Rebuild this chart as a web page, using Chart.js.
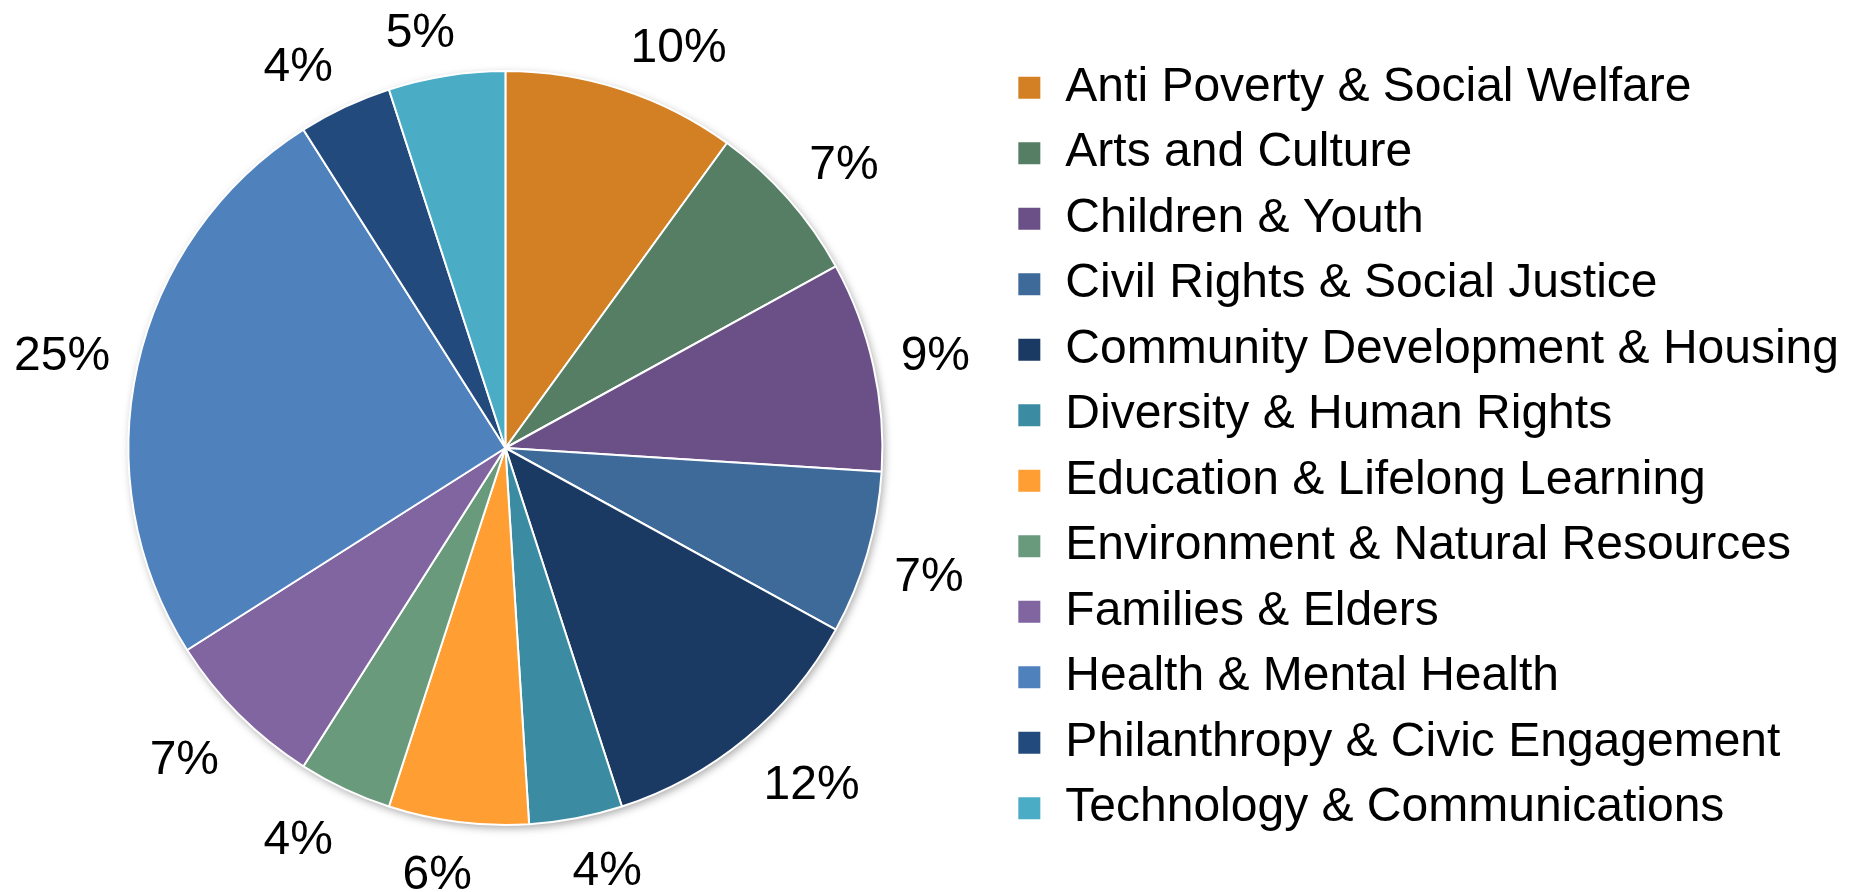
<!DOCTYPE html>
<html>
<head>
<meta charset="utf-8">
<title>Grants by focus area</title>
<script src="https://cdn.jsdelivr.net/npm/chart.js@4.4.0/dist/chart.umd.min.js"></script>
<style>
  html, body { margin: 0; padding: 0; background: #fff; }
</style>
</head>
<body>
<canvas id="pieChart" width="1849" height="892"></canvas>
<script>
// Focus areas, clockwise from 12 o'clock
const areas = [
  'Anti Poverty & Social Welfare',
  'Arts and Culture',
  'Children & Youth',
  'Civil Rights & Social Justice',
  'Community Development & Housing',
  'Diversity & Human Rights',
  'Education & Lifelong Learning',
  'Environment & Natural Resources',
  'Families & Elders',
  'Health & Mental Health',
  'Philanthropy & Civic Engagement',
  'Technology & Communications'
];
const shares = [10, 7, 9, 7, 12, 4, 6, 4, 7, 25, 4, 5];
const sliceColors = [
  '#D38024', '#567E64', '#6A5087', '#3E6A9A', '#1B3A63', '#3B8BA3',
  '#FE9E33', '#6A9A7C', '#8165A0', '#4F81BD', '#224A7D', '#4BACC6'
];

const FONT = "'Liberation Sans', Arial, sans-serif";

// soft drop shadow under the whole pie (Excel style)
const pieShadow = {
  id: 'pieShadow',
  beforeDatasetsDraw(chart) {
    const arc = chart.getDatasetMeta(0).data[0];
    if (!arc) return;
    const ctx = chart.ctx;
    ctx.save();
    ctx.shadowColor = 'rgba(0,0,0,0.35)';
    ctx.shadowBlur = 8;
    ctx.shadowOffsetX = 2;
    ctx.shadowOffsetY = 3;
    ctx.fillStyle = '#fff';
    ctx.beginPath();
    ctx.arc(arc.x, arc.y, arc.outerRadius, 0, Math.PI * 2);
    ctx.fill();
    ctx.restore();
  }
};

const clamp1 = v => Math.max(-1, Math.min(1, v));

// percentage labels outside the rim: anchor on a ring just past the edge,
// text box hangs off the anchor away from the pie
const outsideLabels = {
  id: 'outsideLabels',
  afterDatasetsDraw(chart) {
    const ctx = chart.ctx;
    const meta = chart.getDatasetMeta(0);
    const values = chart.data.datasets[0].data;
    const total = values.reduce((a, b) => a + b, 0);
    ctx.save();
    ctx.font = '48px ' + FONT;
    ctx.fillStyle = '#000';
    ctx.textAlign = 'center';
    ctx.textBaseline = 'middle';
    meta.data.forEach((arc, i) => {
      const mid = (arc.startAngle + arc.endAngle) / 2;
      const text = Math.round(values[i] / total * 100) + '%';
      const w = ctx.measureText(text).width;
      const cos = Math.cos(mid), sin = Math.sin(mid);
      const d = arc.outerRadius + 28;
      const x = arc.x + cos * d + clamp1(cos * 4) * w / 2;
      const y = arc.y + sin * d + clamp1(sin * 2) * 20 + 6;
      ctx.fillText(text, x, y);
    });
    ctx.restore();
  }
};

const ctx = document.getElementById('pieChart').getContext('2d');

const pieChart = new Chart(ctx, {
  type: 'pie',
  data: {
    labels: areas,
    datasets: [{
      data: shares,
      backgroundColor: sliceColors,
      borderColor: '#ffffff',
      borderWidth: 2,
      radius: 377
    }]
  },
  options: {
    responsive: false,
    animation: false,
    layout: {
      padding: { left: 11, top: 4, right: 0, bottom: 0 }
    },
    plugins: {
      legend: {
        position: 'right',
        labels: {
          boxWidth: 24,
          boxHeight: 24,
          padding: 17.5,
          color: '#000',
          font: { size: 48, family: FONT }
        }
      },
      tooltip: { enabled: false }
    }
  },
  plugins: [pieShadow, outsideLabels]
});
</script>
</body>
</html>
